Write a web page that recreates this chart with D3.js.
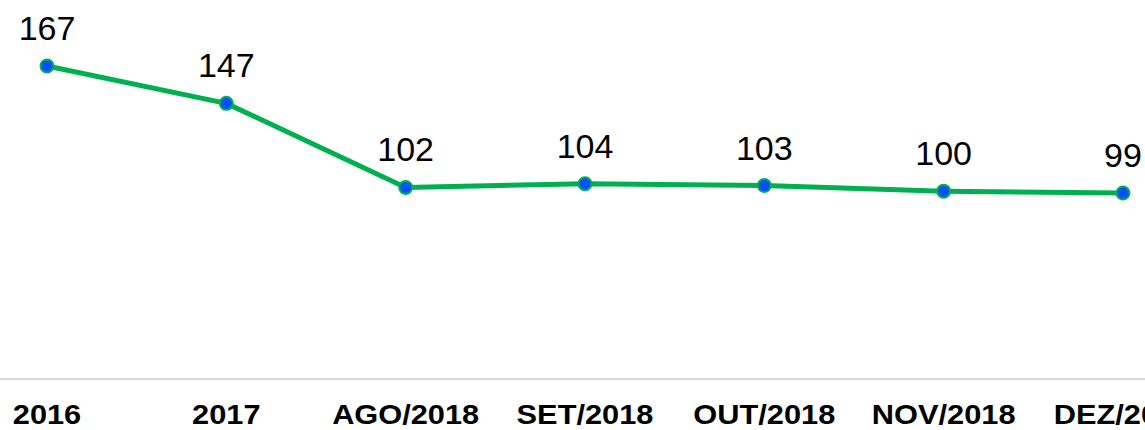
<!DOCTYPE html>
<html>
<head>
<meta charset="utf-8">
<script src="https://cdn.jsdelivr.net/npm/d3@7"></script>
<style>
  body { margin: 0; background: #fff; }
  svg { display: block; }
</style>
</head>
<body>
<svg width="1145" height="430"></svg>
<script>
var categories = ["2016", "2017", "AGO/2018", "SET/2018", "OUT/2018", "NOV/2018", "DEZ/2018"];
var values = [167, 147, 102, 104, 103, 100, 99];

var svg = d3.select("svg"),
    width = +svg.attr("width"),
    height = +svg.attr("height");

var x = d3.scalePoint()
    .domain(categories)
    .range([47, 1123]);

var y = d3.scaleLinear()
    .domain([0, 167])
    .range([378, 66]);

var data = categories.map(function(c, i) { return { cat: c, value: values[i] }; });

// Baseline axis line across the whole width.
svg.append("line")
    .attr("x1", 0)
    .attr("x2", width)
    .attr("y1", y(0) + 1)
    .attr("y2", y(0) + 1)
    .attr("stroke", "#d9d9d9")
    .attr("stroke-width", 2);

// Category labels (bold, slightly wide). The last one runs off the edge like the original.
svg.append("g")
  .selectAll("text")
  .data(categories)
  .enter().append("text")
    .attr("transform", function(d) { return "translate(" + x(d) + ",424) scale(1.14,1)"; })
    .attr("text-anchor", "middle")
    .style("font-family", "'Liberation Sans', Arial, sans-serif")
    .style("font-weight", "bold")
    .style("font-size", "27px")
    .attr("fill", "#000")
    .text(function(d) { return d; });

var line = d3.line()
    .x(function(d) { return x(d.cat); })
    .y(function(d) { return y(d.value); });

svg.append("path")
    .datum(data)
    .attr("fill", "none")
    .attr("stroke", "#00b050")
    .attr("stroke-width", 5)
    .attr("stroke-linejoin", "round")
    .attr("d", line);

svg.append("g")
  .selectAll("circle")
  .data(data)
  .enter().append("circle")
    .attr("cx", function(d) { return x(d.cat); })
    .attr("cy", function(d) { return y(d.value); })
    .attr("r", 6.5)
    .attr("fill", "#0050ff")
    .attr("stroke", "#00b050")
    .attr("stroke-width", 2);

// Value labels above points.
svg.append("g")
  .selectAll("text")
  .data(data)
  .enter().append("text")
    .attr("x", function(d) { return x(d.cat); })
    .attr("y", function(d) { return y(d.value) - 26; })
    .attr("text-anchor", "middle")
    .style("font-family", "'Liberation Sans', Arial, sans-serif")
    .style("font-size", "34px")
    .attr("fill", "#000")
    .text(function(d) { return d.value; });
</script>
</body>
</html>
